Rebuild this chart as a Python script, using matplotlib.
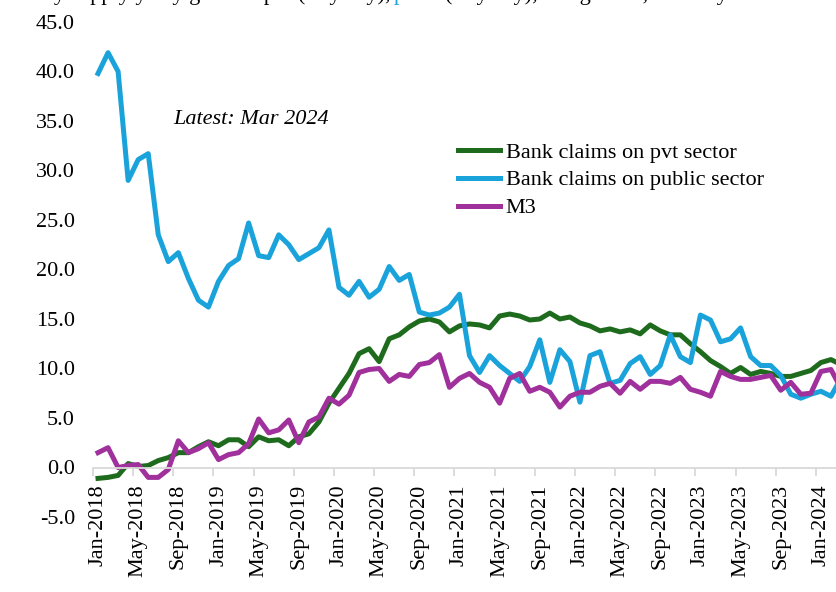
#!/usr/bin/env python3
import matplotlib
matplotlib.use('Agg')
import matplotlib.pyplot as plt
from matplotlib.ticker import FormatStrFormatter
import numpy as np
import pandas as pd

plt.rcParams['font.family'] = ['Liberation Serif', 'DejaVu Serif']
plt.rcParams['font.size'] = 16

################################################
# Data (y-o-y growth, %), monthly Jan-2018 .. Mar-2024
################################################

months = pd.date_range('2018-01-01', periods=75, freq='MS').strftime('%b-%Y').tolist()

pvt_sector = [
    -1.1, -1.0, -0.8, 0.4, 0.1, 0.2, 0.7, 1.0, 1.5, 1.5, 2.1, 2.6,
    2.2, 2.8, 2.8, 2.1, 3.1, 2.7, 2.8, 2.2, 3.1, 3.4, 4.6, 6.5,
    8.0, 9.5, 11.5, 12.0, 10.7, 13.0, 13.4, 14.2, 14.8, 15.0, 14.7, 13.7,
    14.3, 14.5, 14.4, 14.1, 15.3, 15.5, 15.3, 14.9, 15.0, 15.6, 15.0, 15.2,
    14.6, 14.3, 13.8, 14.0, 13.7, 13.9, 13.5, 14.4, 13.8, 13.4, 13.4, 12.5,
    11.7, 10.8, 10.2, 9.5, 10.1, 9.4, 9.7, 9.5, 9.2, 9.2, 9.5, 9.8,
    10.6, 10.9, 10.4,
]

public_sector = [
    39.8, 41.9, 40.0, 29.0, 31.1, 31.7, 23.5, 20.8, 21.7, 19.1, 16.9, 16.2,
    18.8, 20.4, 21.1, 24.7, 21.4, 21.2, 23.5, 22.5, 21.0, 21.6, 22.2, 24.0,
    18.2, 17.4, 18.8, 17.2, 18.0, 20.3, 18.9, 19.5, 15.7, 15.4, 15.6, 16.2,
    17.5, 11.3, 9.6, 11.3, 10.3, 9.5, 8.7, 10.2, 12.9, 8.6, 11.9, 10.7,
    6.6, 11.3, 11.7, 8.5, 8.8, 10.5, 11.2, 9.4, 10.3, 13.4, 11.2, 10.6,
    15.4, 14.9, 12.7, 13.0, 14.1, 11.2, 10.3, 10.3, 9.3, 7.4, 7.0, 7.4,
    7.7, 7.2, 9.0,
]

m3 = [
    1.5, 2.0, 0.0, 0.2, 0.3, -1.0, -1.0, -0.2, 2.7, 1.5, 1.9, 2.5,
    0.8, 1.3, 1.5, 2.4, 4.9, 3.5, 3.8, 4.8, 2.5, 4.6, 5.1, 7.0,
    6.4, 7.3, 9.6, 9.9, 10.0, 8.7, 9.4, 9.2, 10.4, 10.6, 11.4, 8.1,
    9.0, 9.5, 8.6, 8.1, 6.5, 9.0, 9.5, 7.7, 8.1, 7.6, 6.1, 7.2,
    7.6, 7.6, 8.2, 8.5, 7.5, 8.7, 7.9, 8.7, 8.7, 8.5, 9.1, 7.9,
    7.6, 7.2, 9.7, 9.2, 8.9, 8.9, 9.1, 9.3, 7.8, 8.6, 7.4, 7.5,
    9.7, 9.9, 8.0,
]

GREEN = '#1e6b1e'
BLUE = '#1aa3db'
PURPLE = '#a0309b'
AXIS_GREY = '#d9d9d9'

################################################
# Plot
################################################

W, H = 836, 592
fig = plt.figure(figsize=(W / 100, H / 100), dpi=100)
# axes runs a little past the right edge, like the cropped original
ax = fig.add_axes([93 / W, (H - 517) / H, (846 - 93) / W, (517 - 22) / H])

x = np.arange(len(months))
ax.plot(x, pvt_sector, color=GREEN, lw=3.6, label='Bank claims on pvt sector')
ax.plot(x, public_sector, color=BLUE, lw=3.6, label='Bank claims on public sector')
ax.plot(x, m3, color=PURPLE, lw=3.6, label='M3')

ax.set_xlim(-0.5, len(months) - 0.5)
ax.set_ylim(-5, 45)
ax.set_yticks(np.arange(-5, 46, 5))
ax.yaxis.set_major_formatter(FormatStrFormatter('%.1f'))

for s in ['top', 'right', 'left']:
    ax.spines[s].set_visible(False)
ax.spines['bottom'].set_position(('data', 0))
ax.spines['bottom'].set_color(AXIS_GREY)
ax.spines['bottom'].set_linewidth(1.3)

ax.set_xticks(x[::4])
ax.set_xticklabels(months[::4], rotation=90)
ax.set_xticks(np.arange(-0.5, len(months), 4), minor=True)
ax.tick_params(axis='x', which='major', length=0, pad=12)
ax.tick_params(axis='x', which='minor', length=6, width=1.3, color=AXIS_GREY, direction='out')
ax.tick_params(axis='y', length=0, pad=13)

ax.text(173 / W, 1 - 120 / H, 'Latest: Mar 2024', transform=fig.transFigure,
        style='italic', va='center', ha='left')

ax.legend(loc='upper left', bbox_to_anchor=(458 / W, 1 - 142 / H),
          bbox_transform=fig.transFigure, frameon=False, borderpad=0,
          borderaxespad=0, handlelength=1.9, handletextpad=0.25, labelspacing=0.33)

# title line, cut off at the top of the original picture (only descenders show)
fig.text(390 / W, 1.0, 'Money supply y-o-y growth: pvt (% y-o-y),',
         ha='right', va='baseline')
fig.text(394 / W, 1.0, 'public', color=BLUE, ha='left', va='baseline')
fig.text(445 / W, 1.0, '(% y-o-y), M3 growth, monthly',
         ha='left', va='baseline')

plt.savefig('out.png', dpi=100)
print("Saved to out.png")
